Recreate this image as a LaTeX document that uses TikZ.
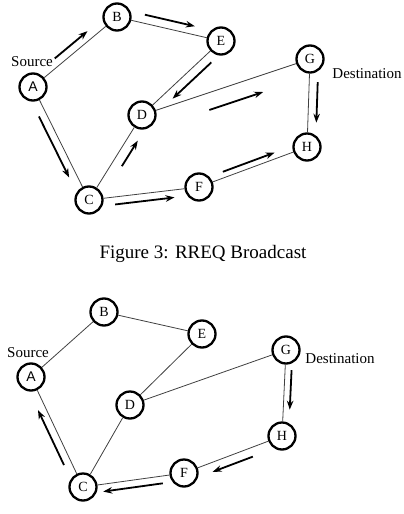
\documentclass[tikz,border=0pt]{standalone}
\usepackage{fontspec}
\setmainfont{Liberation Serif}
\newfontfamily\arialfont{Liberation Sans}
\usetikzlibrary{arrows.meta, calc}
\newcommand{\sidearrow}[6]{\draw [flowarrow] ($(#1)!#3!(#2)!#5!#6:(#2)$) -- ($(#1)!#4!(#2)!#5!#6:(#2)$);}
\tikzstyle{station} = [circle, draw, line width=2.3pt, fill=white, minimum size=27pt, inner sep=0pt, font=\fontsize{14}{14}\selectfont]
\tikzstyle{link} = [line width=0.8pt, draw=black!75]
\tikzstyle{flowarrow} = [-{Stealth[length=9pt,width=6.5pt]}, line width=1.8pt]
\tikzstyle{tag} = [font=\fontsize{15}{15}\selectfont]

\begin{document}
\begin{tikzpicture}[x=1pt, y=-1pt]
	\useasboundingbox (0,0) rectangle (404,514);
		% RREQ broadcast
		\node (a1) [station, font=\arialfont\fontsize{14}{14}\selectfont] at (33,87) {A};
		\node (b1) [station] at (117,17) {B};
		\node (e1) [station] at (221,41) {E};
		\node (g1) [station] at (310,59) {G};
		\node (d1) [station] at (142,115) {D};
		\node (h1) [station] at (307,147) {H};
		\node (f1) [station] at (199,187) {F};
		\node (c1) [station] at (89,200) {C};
		\node (src1) [tag] at (32,62) {Source};
		\node (dst1) [tag] at (367,74) {Destination};
		\draw [link] (a1) -- (b1);
		\draw [link] (b1) -- (e1);
		\draw [link] (e1) -- (d1);
		\draw [link] (d1) -- (g1);
		\draw [link] (g1) -- (h1);
		\draw [link] (a1) -- (c1);
		\draw [link] (c1) -- (d1);
		\draw [link] (c1) -- (f1);
		\draw [link] (f1) -- (h1);
		\sidearrow{a1}{b1}{0.32}{0.71}{8pt}{90}
		\sidearrow{b1}{e1}{0.25}{0.73}{8.5pt}{90}
		\sidearrow{e1}{d1}{0.2}{0.69}{9pt}{90}
		\sidearrow{d1}{g1}{0.37}{0.69}{16.5pt}{-90}
		\sidearrow{g1}{h1}{0.26}{0.72}{8.5pt}{90}
		\sidearrow{a1}{c1}{0.23}{0.77}{7.8pt}{-90}
		\sidearrow{c1}{d1}{0.46}{0.76}{10pt}{-90}
		\sidearrow{c1}{f1}{0.23}{0.77}{7.5pt}{-90}
		\sidearrow{f1}{h1}{0.24}{0.72}{6pt}{90}
		\node (caption) at (203,254) [font=\fontsize{19}{19}\selectfont] {Figure 3: RREQ Broadcast};
		% RREP back to the source
		\node (a2) [station, font=\arialfont\fontsize{14}{14}\selectfont] at (31,377) {A};
		\node (b2) [station] at (104,312) {B};
		\node (e2) [station] at (202,334) {E};
		\node (g2) [station] at (286,350) {G};
		\node (d2) [station] at (130,405) {D};
		\node (h2) [station] at (282,436) {H};
		\node (f2) [station] at (184,473) {F};
		\node (c2) [station] at (83,487) {C};
		\node (src2) [tag] at (28,353) {Source};
		\node (dst2) [tag] at (340,359) {Destination};
		\draw [link] (a2) -- (b2);
		\draw [link] (b2) -- (e2);
		\draw [link] (e2) -- (d2);
		\draw [link] (d2) -- (g2);
		\draw [link] (g2) -- (h2);
		\draw [link] (a2) -- (c2);
		\draw [link] (c2) -- (d2);
		\draw [link] (c2) -- (f2);
		\draw [link] (f2) -- (h2);
		\sidearrow{g2}{h2}{0.23}{0.69}{6.5pt}{90}
		\sidearrow{h2}{f2}{0.33}{0.74}{9pt}{90}
		\sidearrow{f2}{c2}{0.22}{0.81}{7.3pt}{90}
		\sidearrow{c2}{a2}{0.23}{0.73}{7.8pt}{90}
	\end{tikzpicture}
\end{document}
